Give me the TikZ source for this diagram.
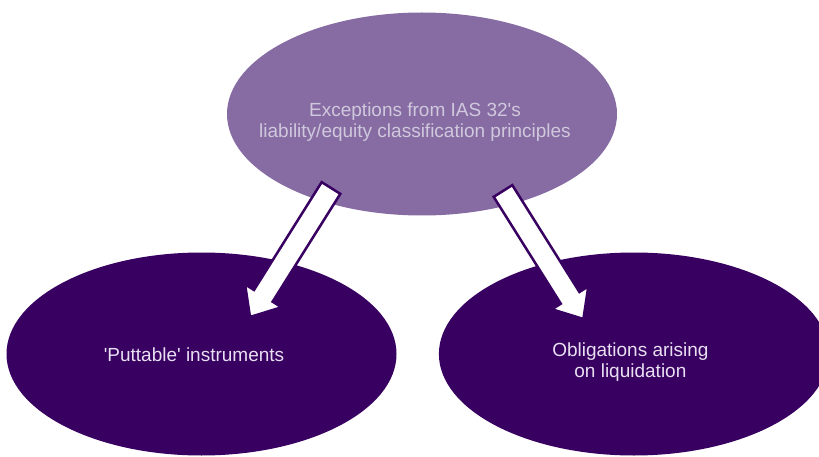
\documentclass[tikz,border=0pt]{standalone}
\usepackage{fontspec}
\setsansfont{Liberation Sans}
\definecolor{iaslilac}{RGB}{134,108,163}
\definecolor{iasplum}{RGB}{56,0,96}
\definecolor{iasgrey}{RGB}{208,200,220}
\definecolor{iaspale}{RGB}{232,224,242}
\tikzset{every picture/.style={/utils/exec={\sffamily}}}
\usetikzlibrary{calc}
\usetikzlibrary{positioning}
\usetikzlibrary{shapes.geometric}
\tikzset{
  blob/.style={ellipse, minimum width=390pt, minimum height=203pt, inner sep=0pt},
  blobtext/.style={align=center, font=\fontsize{19}{21}\selectfont},
  fatarrow/.style={draw=iasplum, fill=white, line width=2.5pt, line join=miter}
}

\begin{document}
\begin{tikzpicture}[x=1pt, y=1pt]
  \clip (0,0) rectangle (819,-457);
  \fill [white] (0,0) rectangle (819,-457);

  \node [blob, fill=iaslilac] (exc) at (422,-114) {};
  \node [blob, fill=iasplum] (put) at (201.5,-354) {};
  \node [blob, fill=iasplum, right=42pt of put] (obl) {};

  \node [blobtext, text=iasgrey] (exclabel) at ($(exc)+(-7,-8)$) {Exceptions from IAS 32\textquotesingle{}s\\liability/equity classification principles};
  \node [blobtext, text=iaspale] (putlabel) at ($(put)+(-7.5,-1)$) {\textquotesingle{}Puttable\textquotesingle{} instruments};
  \node [blobtext, text=iaspale] (obllabel) at ($(obl)+(-3.5,-8.5)$) {Obligations arising\\ on liquidation};

  % top to left:
  \coordinate (exctail1) at ($(exc)+(-91,-74)$);
  \coordinate (puttip) at ($(put)+(48.5,37)$);
  \coordinate (putbase) at ($(puttip)!25pt!(exctail1)$);
  \draw [fatarrow] ($(exctail1)!11pt!90:(puttip)$) -- ($(putbase)!11pt!90:(puttip)$)
    -- ($(putbase)!21.5pt!90:(puttip)$) -- (puttip) -- ($(putbase)!21.5pt!-90:(puttip)$)
    -- ($(putbase)!11pt!-90:(puttip)$) -- ($(exctail1)!11pt!-90:(puttip)$) -- cycle;

  % top to right:
  \coordinate (exctail2) at ($(exc)+(81,-77)$);
  \coordinate (obltip) at ($(obl)+(-50.5,35)$);
  \coordinate (oblbase) at ($(obltip)!25pt!(exctail2)$);
  \draw [fatarrow] ($(exctail2)!11pt!90:(obltip)$) -- ($(oblbase)!11pt!90:(obltip)$)
    -- ($(oblbase)!21.5pt!90:(obltip)$) -- (obltip) -- ($(oblbase)!21.5pt!-90:(obltip)$)
    -- ($(oblbase)!11pt!-90:(obltip)$) -- ($(exctail2)!11pt!-90:(obltip)$) -- cycle;

\end{tikzpicture}
\end{document}
